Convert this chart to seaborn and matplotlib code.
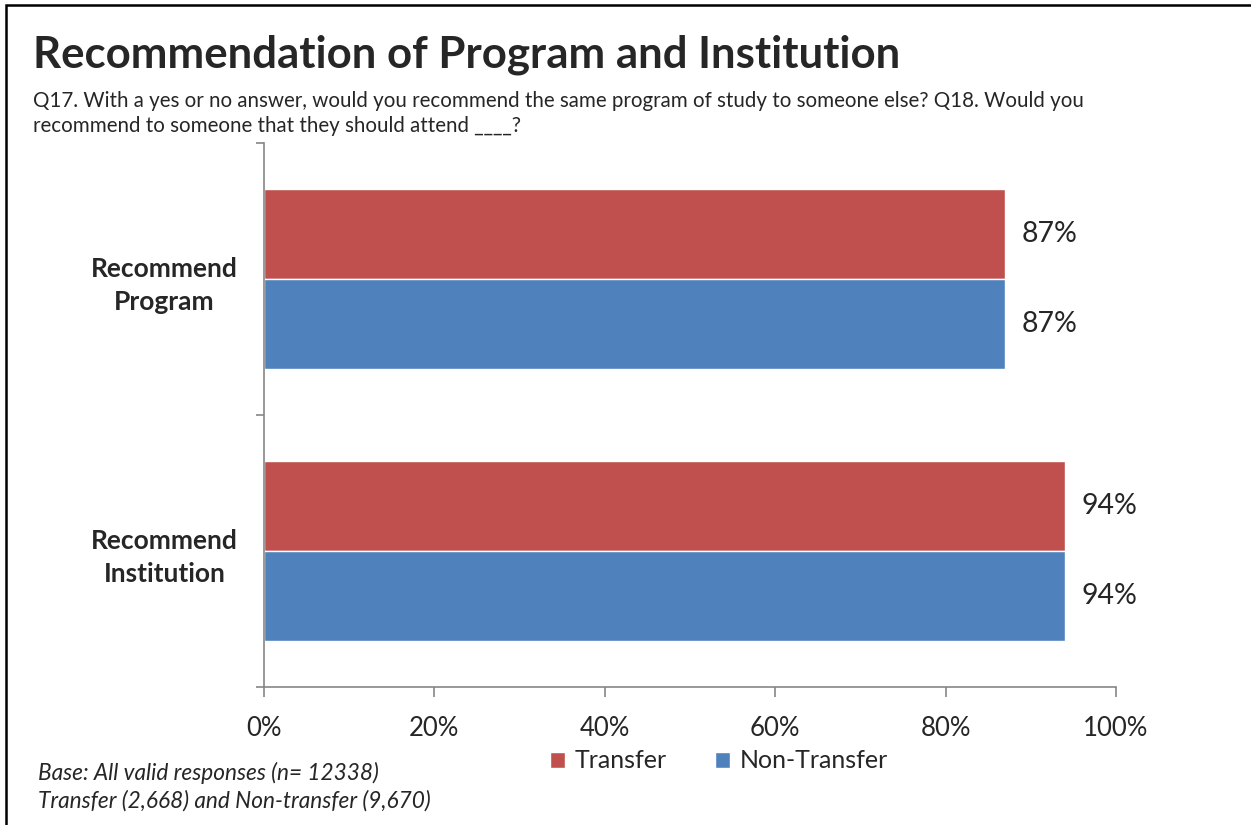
import pandas as pd
import seaborn as sns
import matplotlib.pyplot as plt
from matplotlib.patches import Rectangle
from matplotlib.ticker import FixedLocator, PercentFormatter

categories = ["Recommend\nProgram", "Recommend\nInstitution"]
groups = ["Transfer", "Non-Transfer"]
transfer = [87, 94]
non_transfer = [87, 94]
colors = ["#C0504D", "#4F81BD"]

df = pd.DataFrame({
    "category": categories * 2,
    "group": [groups[0]] * 2 + [groups[1]] * 2,
    "value": transfer + non_transfer,
})

sns.set_style("white")
plt.rcParams["font.family"] = ["Lato", "DejaVu Sans"]

fig = plt.figure(figsize=(12.51, 8.25), dpi=100)
ax = fig.add_axes([264 / 1251, 1 - 687 / 825, 852 / 1251, 544 / 825])

sns.barplot(data=df, y="category", x="value", hue="group", hue_order=groups,
            order=categories, palette=colors, orient="h", width=0.662,
            saturation=1, ax=ax, legend=True)

for cont in ax.containers:
    ax.bar_label(cont, labels=[f"{v:.0f}%" for v in cont.datavalues],
                 padding=12, fontsize=20.5)

ax.set_xlim(0, 100)
ax.set_ylim(1.5, -0.5)
ax.set_xticks([0, 20, 40, 60, 80, 100])
ax.xaxis.set_major_formatter(PercentFormatter(decimals=0))
ax.set_xlabel("")
ax.set_ylabel("")
ax.tick_params(axis="x", direction="out", length=7, width=1.2, color="#868686",
               labelsize=18.5, pad=14, bottom=True)
ax.tick_params(axis="y", which="major", length=0, pad=0)
ax.yaxis.set_minor_locator(FixedLocator([-0.5, 0.5, 1.5]))
ax.tick_params(axis="y", which="minor", direction="out", length=6, width=1.2,
               color="#868686", left=True)
for lab in ax.get_yticklabels():
    lab.set_fontweight("bold")
    lab.set_fontsize(19)
    lab.set_multialignment("center")
    lab.set_horizontalalignment("center")
    lab.set_linespacing(1.45)
    lab.set_x(-0.117)

sns.despine(ax=ax)
for s in ["left", "bottom"]:
    ax.spines[s].set_color("#868686")
    ax.spines[s].set_linewidth(1.2)

ax.legend(loc="center", bbox_to_anchor=(719 / 1251, 1 - 761 / 825),
          bbox_transform=fig.transFigure, ncol=2, frameon=False, fontsize=18,
          handlelength=0.6, handleheight=0.6, handletextpad=0.4, columnspacing=1.9)

fig.text(33 / 1251, 1 - 55 / 825, "Recommendation of Program and Institution",
         fontsize=31.5, fontweight="bold", va="center", ha="left")
fig.text(33 / 1251, 1 - 101 / 825,
         "Q17. With a yes or no answer, would you recommend the same program of study to someone else? Q18. Would you",
         fontsize=14.8, va="center", ha="left")
fig.text(33 / 1251, 1 - 126 / 825, "recommend to someone that they should attend ____?",
         fontsize=14.8, va="center", ha="left")
fig.text(38 / 1251, 1 - 773 / 825, "Base: All valid responses (n= 12338)",
         fontsize=16.3, style="italic", va="center", ha="left")
fig.text(38 / 1251, 1 - 801 / 825, "Transfer (2,668) and Non-transfer (9,670)",
         fontsize=16.3, style="italic", va="center", ha="left")

fig.patches.append(Rectangle((6 / 1251, -0.1), 1.2, 1 - 4.5 / 825 + 0.1,
                             transform=fig.transFigure, fill=False,
                             edgecolor="black", linewidth=1.8, zorder=10))

fig.savefig("out.png", dpi=100)
